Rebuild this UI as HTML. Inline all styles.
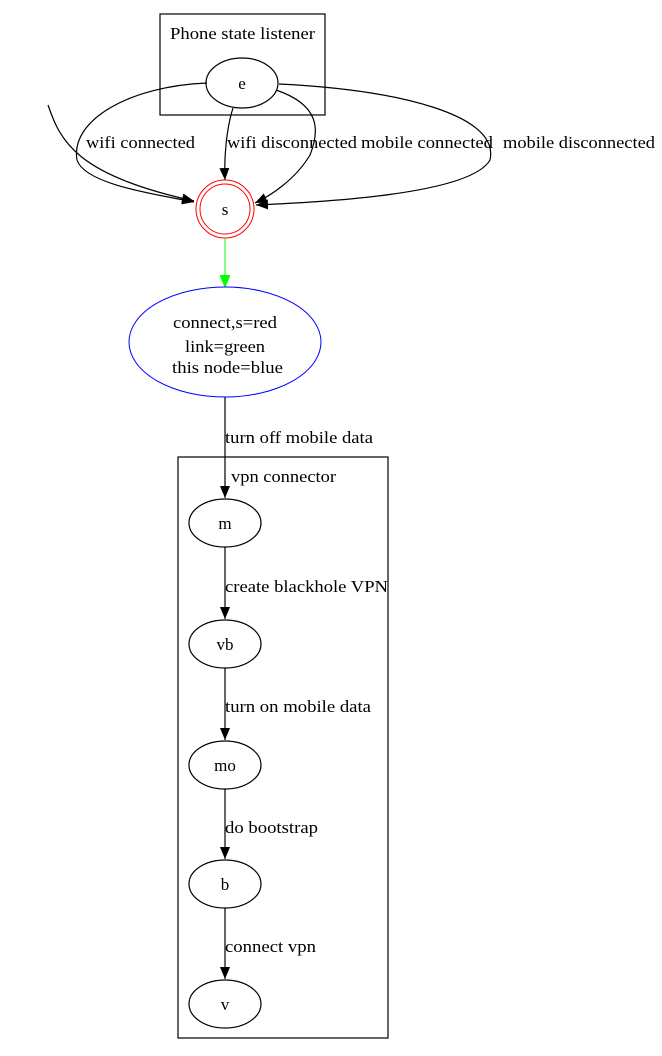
<!DOCTYPE html>
<html><head><style>body{margin:0;background:#fff}svg{display:block}text{font-family:"Liberation Serif",serif;font-size:17px;fill:#000}</style></head>
<body>
<svg width="662" height="1056" viewBox="0 0 662 1056" xmlns="http://www.w3.org/2000/svg">
<defs>
<marker id="a" markerWidth="12" markerHeight="10" refX="12" refY="5" orient="auto" markerUnits="userSpaceOnUse"><path d="M0,0L12,5L0,10z" fill="#000"/></marker>
<marker id="g" markerWidth="12" markerHeight="10" refX="12" refY="5" orient="auto" markerUnits="userSpaceOnUse"><path d="M0,0L12,5L0,10z" fill="#0f0" stroke="#0f0"/></marker>
</defs>
<g fill="none" stroke="#000" stroke-width="1.2">
<rect x="160" y="14" width="165" height="101"/>
<rect x="178" y="457" width="210" height="581"/>
<ellipse cx="242" cy="83" rx="36" ry="25"/>
<path d="M48,105 C60,140 75,175 194,201" marker-end="url(#a)"/>
<path d="M207,83 C130,86 70,120 77,160 C85,185 160,195 194,202" marker-end="url(#a)"/>
<path d="M233,108 C226,130 224,160 225,180" marker-end="url(#a)"/>
<path d="M276,90 C320,105 320,130 310,155 C295,180 270,196 255,203" marker-end="url(#a)"/>
<path d="M279,84 C400,90 500,115 490,160 C470,195 320,202 256,205" marker-end="url(#a)"/>
<path d="M225,397 L225,498" marker-end="url(#a)"/>
<path d="M225,547 L225,619" marker-end="url(#a)"/>
<path d="M225,668 L225,740" marker-end="url(#a)"/>
<path d="M225,789 L225,859" marker-end="url(#a)"/>
<path d="M225,908 L225,979" marker-end="url(#a)"/>
<ellipse cx="225" cy="523" rx="36" ry="24"/>
<ellipse cx="225" cy="644" rx="36" ry="24"/>
<ellipse cx="225" cy="765" rx="36" ry="24"/>
<ellipse cx="225" cy="884" rx="36" ry="24"/>
<ellipse cx="225" cy="1004" rx="36" ry="24"/>
</g>
<circle cx="225" cy="209" r="29" fill="none" stroke="#f00"/>
<circle cx="225" cy="209" r="25" fill="none" stroke="#f00"/>
<path d="M225,238 L225,287" stroke="#0f0" fill="none" marker-end="url(#g)"/>
<ellipse cx="225" cy="342" rx="96" ry="55" fill="none" stroke="#00f"/>
<g text-anchor="middle">
<text x="242" y="89">e</text>
<text x="225" y="215">s</text>
<text x="225" y="1010">v</text>
<text x="225" y="529">m</text>
<text x="225" y="650">vb</text>
<text x="225" y="771">mo</text>
<text x="225" y="890">b</text>
</g>
<g lengthAdjust="spacingAndGlyphs">
<text x="170" y="39" textLength="145" lengthAdjust="spacingAndGlyphs">Phone state listener</text>
<text x="173" y="328" textLength="104" lengthAdjust="spacingAndGlyphs">connect,s=red</text>
<text x="185" y="352" textLength="80" lengthAdjust="spacingAndGlyphs">link=green</text>
<text x="172" y="373" textLength="111" lengthAdjust="spacingAndGlyphs">this node=blue</text>
<text x="86" y="148" textLength="109" lengthAdjust="spacingAndGlyphs">wifi connected</text>
<text x="227" y="148" textLength="130" lengthAdjust="spacingAndGlyphs">wifi disconnected</text>
<text x="361" y="148" textLength="132" lengthAdjust="spacingAndGlyphs">mobile connected</text>
<text x="503" y="148" textLength="152" lengthAdjust="spacingAndGlyphs">mobile disconnected</text>
<text x="225" y="443" textLength="148" lengthAdjust="spacingAndGlyphs">turn off mobile data</text>
<text x="231" y="482" textLength="105" lengthAdjust="spacingAndGlyphs">vpn connector</text>
<text x="225" y="592" textLength="163" lengthAdjust="spacingAndGlyphs">create blackhole VPN</text>
<text x="225" y="712" textLength="146" lengthAdjust="spacingAndGlyphs">turn on mobile data</text>
<text x="225" y="833" textLength="93" lengthAdjust="spacingAndGlyphs">do bootstrap</text>
<text x="225" y="952" textLength="91" lengthAdjust="spacingAndGlyphs">connect vpn</text>
</g>
</svg>
</body></html>
